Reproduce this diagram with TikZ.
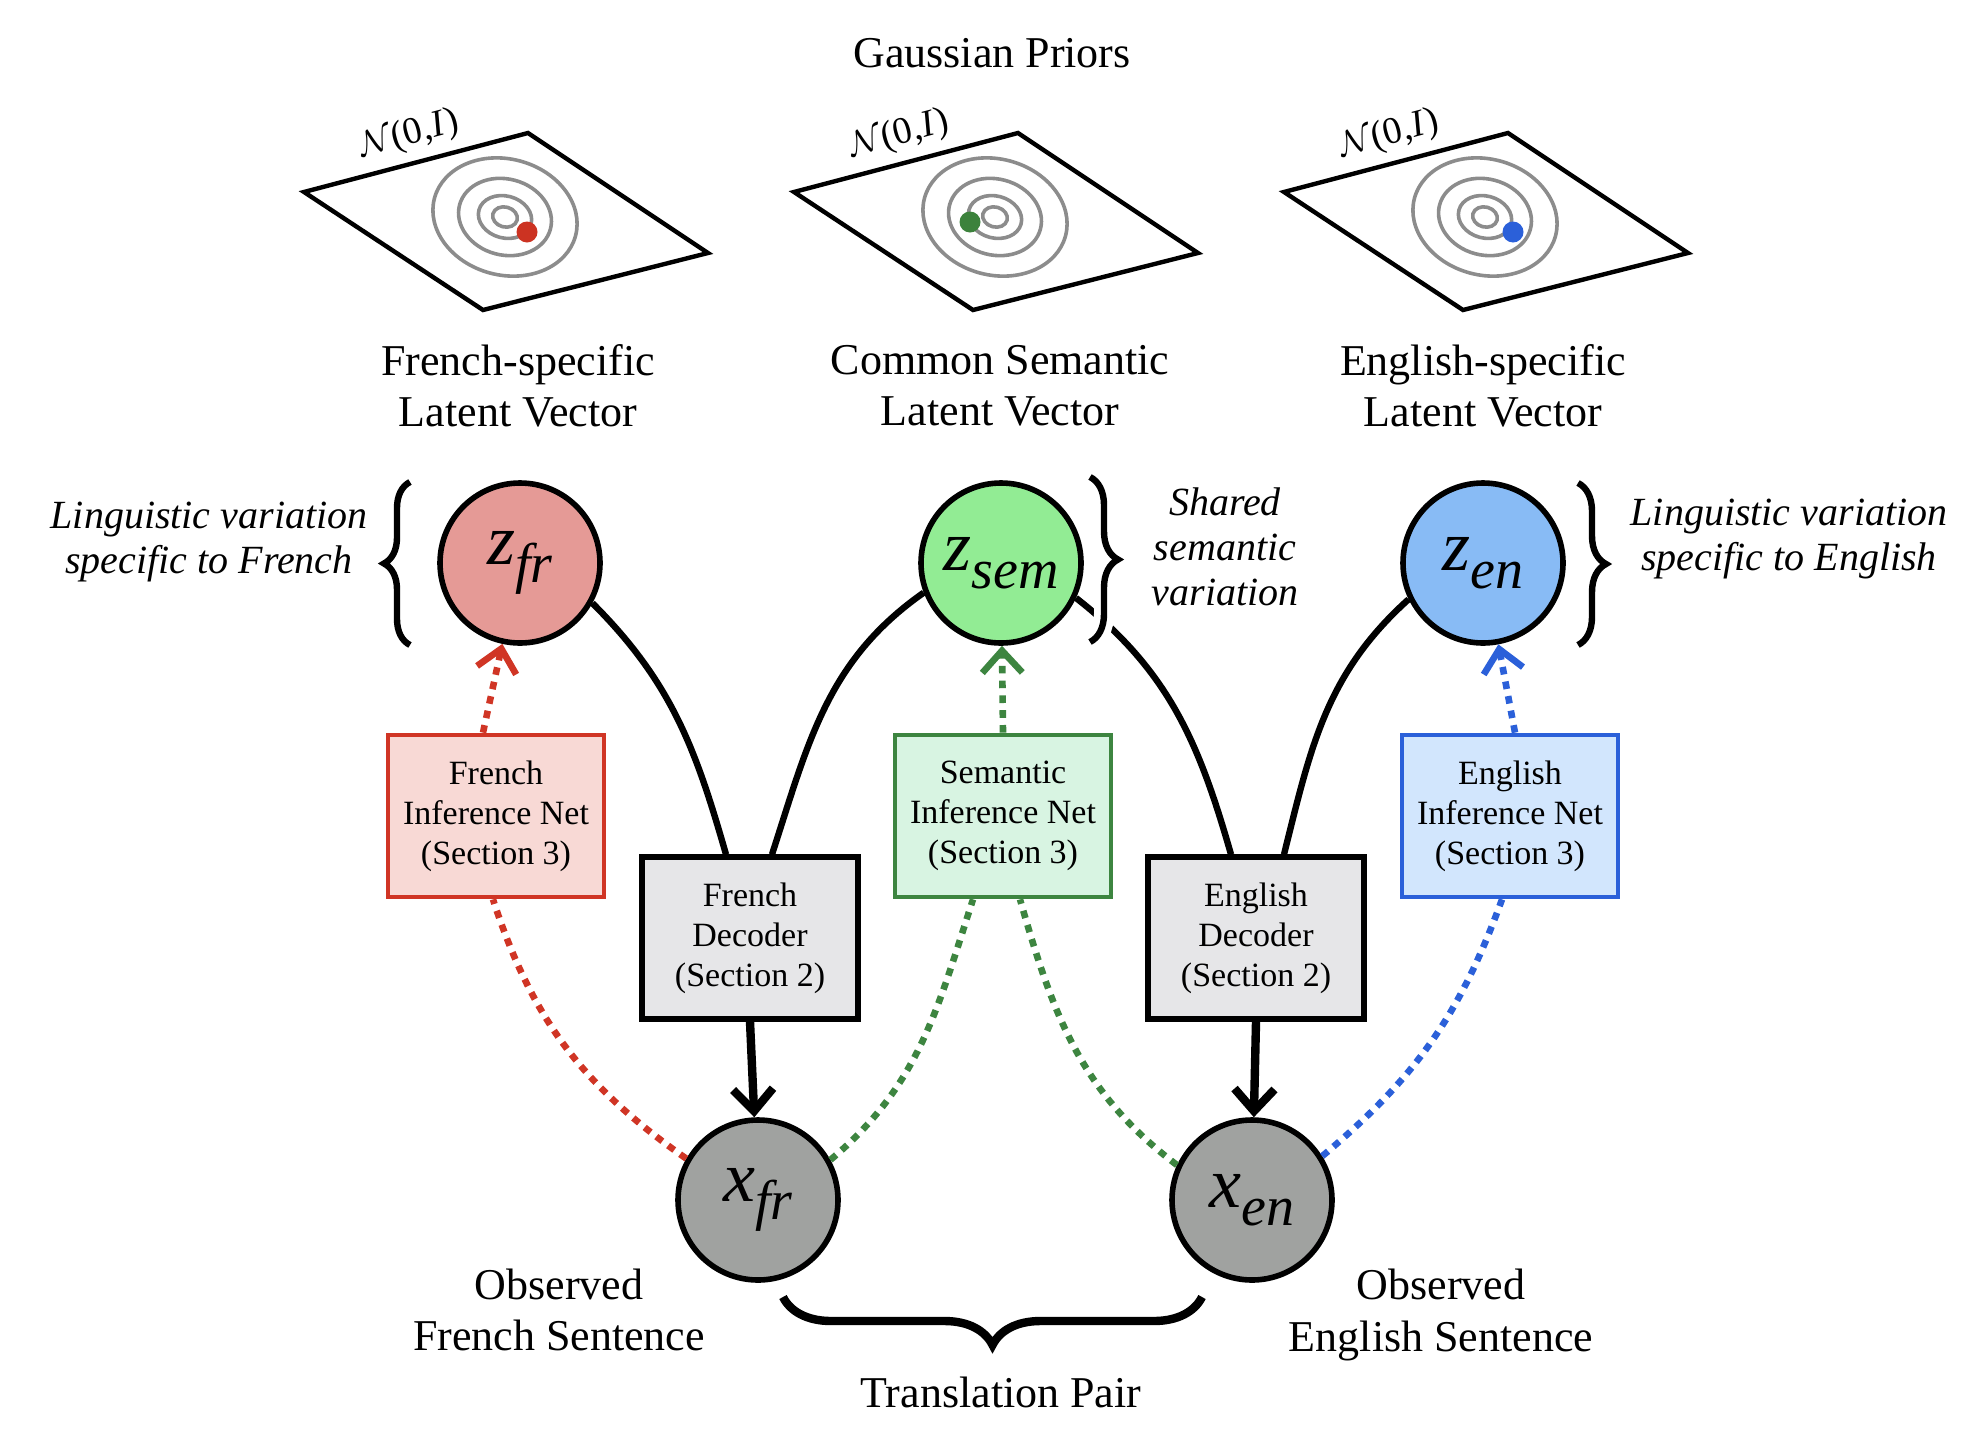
\documentclass[tikz,border=0pt]{standalone}
\usepackage{fontspec}
\setmainfont{Liberation Serif}
\usetikzlibrary{arrows.meta,decorations.pathreplacing,calc}

\definecolor{zfrfill}{RGB}{229,154,150}
\definecolor{zsemfill}{RGB}{146,236,148}
\definecolor{zenfill}{RGB}{136,187,245}
\definecolor{xfill}{RGB}{160,162,160}
\definecolor{frline}{RGB}{208,53,37}
\definecolor{frbox}{RGB}{248,217,213}
\definecolor{semline}{RGB}{61,133,64}
\definecolor{sembox}{RGB}{216,244,226}
\definecolor{enline}{RGB}{43,96,217}
\definecolor{enbox}{RGB}{210,230,253}
\definecolor{decbox}{RGB}{230,230,232}
\definecolor{ringgray}{RGB}{140,140,140}
\definecolor{dotred}{RGB}{204,51,34}
\definecolor{dotgreen}{RGB}{60,130,60}
\definecolor{dotblue}{RGB}{43,96,217}

\newcommand{\latv}[2]{\fontsize{36}{36}\selectfont\itshape #1\raisebox{-9pt}{\fontsize{28}{28}\selectfont #2}}

\tikzset{
  lbl/.style={font=\fontsize{22}{25.7}\selectfont, align=center, inner sep=0pt},
  itl/.style={font=\fontsize{20}{22.6}\selectfont\itshape, align=center, inner sep=0pt},
  latnode/.style={circle, draw=black, line width=2.8pt, minimum size=80pt, inner sep=0pt},
  netbox/.style={rectangle, line width=2.4pt, minimum width=108pt, minimum height=81pt,
     align=center, inner sep=0pt, font=\fontsize{17}{20}\selectfont},
  decnode/.style={netbox, draw=black, fill=decbox, line width=2.6pt},
  gen/.style={line width=3.2pt},
  decarrow/.style={line width=4.2pt, -{Straight Barb[length=11pt,width=20pt]}},
  dotline/.style={line width=3.3pt, dash pattern=on 3.8pt off 3.6pt},
  arrowV/.style={-{Straight Barb[length=11pt,width=20pt]}},
  brc/.style={decorate, decoration={brace, amplitude=#1}, line width=3.2pt,
     preaction={draw=white, line width=10pt}},
  plane/.style={line width=2.2pt, draw=black},
  ring/.style={line width=1.8pt, draw=ringgray},
  nlab/.style={font=\fontsize{19}{19}\selectfont, inner sep=0pt, rotate=15},
}

\begin{document}
\begin{tikzpicture}[x=0.5pt,y=0.5pt]
\useasboundingbox (0,0) rectangle (1970,-1430);

% title
\node[lbl] (gp) at (992,-53) {Gaussian Priors};

% planes
\foreach \cx/\dx/\dy/\dc/\nm in {505/22/-15/dotred/pa, 995/-25/-5/dotgreen/pb, 1485/28/-15/dotblue/pc}{
  \begin{scope}[shift={(\cx,-217)}]
    \draw[plane] (-201,25) -- (23,84) -- (203,-36) -- (-22,-93) -- cycle;
    \draw[ring] (0,0) ellipse [x radius=73, y radius=58, rotate=-15];
    \draw[ring] (0,0) ellipse [x radius=47, y radius=38, rotate=-15];
    \draw[ring] (0,0) ellipse [x radius=27, y radius=21, rotate=-15];
    \draw[ring] (0,0) ellipse [x radius=12.5, y radius=10, rotate=-15];
    \fill[\dc] (\dx,\dy) circle [radius=10.5];
    \node[nlab] (\nm) at (-96,82) {$\mathcal{N}$(0,\textit{I})};
  \end{scope}
}

% headings
\node[lbl] (h1) at (518,-386) {French-specific\\Latent Vector};
\node[lbl] (h2) at (1000,-386) {Common Semantic\\Latent Vector};
\node[lbl] (h3) at (1483,-386) {English-specific\\Latent Vector};

% italic side labels
\node[itl] (l1) at (209,-542) {Linguistic variation\\specific to French};
\node[itl] (l2) at (1225,-547) {Shared\\semantic\\variation};
\node[itl] (l3) at (1789,-539) {Linguistic variation\\specific to English};

% boxes
\node[netbox, draw=frline, fill=frbox] (frinf) at (496,-816) {French\\Inference Net\\(Section 3)};
\node[netbox, draw=semline, fill=sembox] (seminf) at (1003,-816) {Semantic\\Inference Net\\(Section 3)};
\node[netbox, draw=enline, fill=enbox] (eninf) at (1510,-816) {English\\Inference Net\\(Section 3)};
\node[decnode] (frdec) at (750,-938) {French\\Decoder\\(Section 2)};
\node[decnode] (endec) at (1256,-938) {English\\Decoder\\(Section 2)};

% latent nodes
\node[latnode, fill=zfrfill] (zfr) at (520,-563) {\latv{z}{fr}};
\node[latnode, fill=zsemfill] (zsem) at (1001,-563) {\latv{z}{sem}};
\node[latnode, fill=zenfill] (zen) at (1483,-563) {\latv{z}{en}};
\node[latnode, fill=xfill] (xfr) at (758,-1200) {\latv{x}{fr}};
\node[latnode, fill=xfill] (xen) at (1252,-1200) {\latv{x}{en}};

% generative curves
\draw[gen] (zfr.-29) to[out=-45, in=106] ($(frdec.north)+(-24,0)$);
\draw[gen] (zsem.201) to[out=215, in=72] ($(frdec.north)+(22,0)$);
\draw[gen] (zsem.-25) to[out=-38, in=106] ($(endec.north)+(-25,0)$);
\draw[gen] (zen.206) to[out=222, in=76] ($(endec.north)+(28,0)$);

\draw[decarrow] (frdec.south) -- (xfr);
\draw[decarrow] (endec.south) -- (xen);

% inference (dotted)
\draw[dotline, draw=frline] (xfr.150) to[out=145, in=-72] ($(frinf.south)+(-3,0)$);
\draw[dotline, draw=frline, arrowV] ($(frinf.north)+(-13,0)$) -- (zfr);
\draw[dotline, draw=semline] (xfr.29) to[out=40, in=-108] ($(seminf.south)+(-30,0)$);
\draw[dotline, draw=semline] (xen.155) to[out=143, in=-74] ($(seminf.south)+(17,0)$);
\draw[dotline, draw=semline, arrowV] (seminf.north) -- (zsem);
\draw[dotline, draw=enline] (xen.32) to[out=40, in=-110] ($(eninf.south)+(-8,0)$);
\draw[dotline, draw=enline, arrowV] ($(eninf.north)+(5,0)$) -- (zen);

% braces
\draw[brc=13pt] (410,-645) -- (410,-482);
\draw[brc=14pt] (1090,-477) -- (1090,-642);
\draw[brc=14pt] (1578,-483) -- (1578,-645);
\draw[brc=24pt, line width=4.2pt] (1202,-1297) -- (783,-1297);

% bottom labels
\node[lbl] (o1) at (559,-1310) {Observed\\French Sentence};
\node[lbl] (o2) at (1441,-1315) {Observed\\English Sentence};
\node[lbl] (tp) at (1001,-1392) {Translation Pair};
\end{tikzpicture}
\end{document}
